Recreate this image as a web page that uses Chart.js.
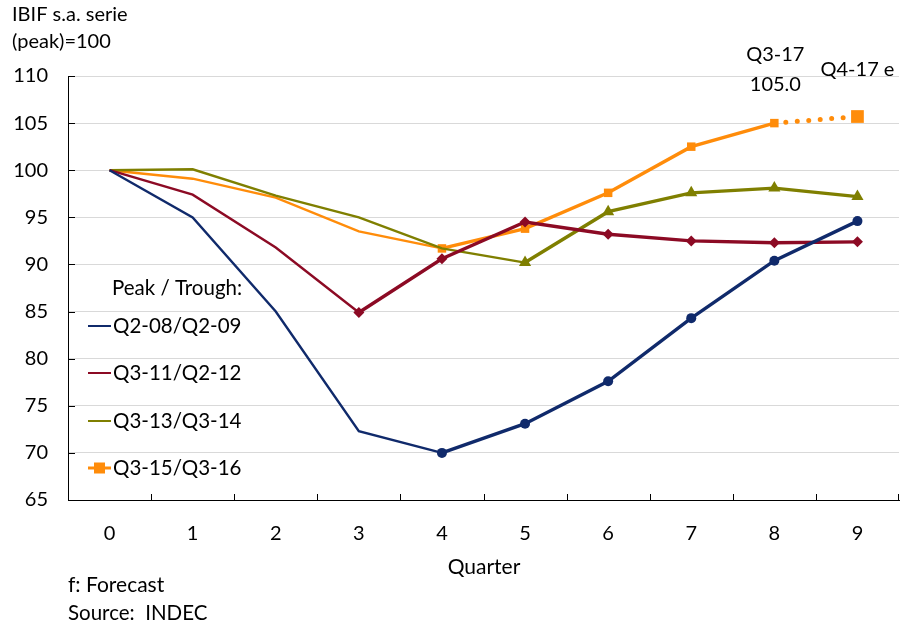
<!DOCTYPE html>
<html>
<head>
<meta charset="utf-8">
<script src="https://cdn.jsdelivr.net/npm/chart.js@4.4.1/dist/chart.umd.min.js"></script>
<style>
  html, body { margin: 0; padding: 0; background: #fff; }
  #wrap { width: 903px; height: 627px; position: relative; }
</style>
</head>
<body>
<div id="wrap"><canvas id="c" width="903" height="627"></canvas></div>
<script>
// Quarters after each cyclical peak
const quarters = ['0', '1', '2', '3', '4', '5', '6', '7', '8', '9'];
const yTicks = [65, 70, 75, 80, 85, 90, 95, 100, 105, 110];

// IBIF s.a., peak quarter = 100
const cycle0809 = [100, 95.0, 85.0, 72.3, 70.0, 73.1, 77.6, 84.3, 90.4, 94.6];
const cycle1112 = [100, 97.4, 91.8, 84.9, 90.6, 94.5, 93.2, 92.5, 92.3, 92.4];
const cycle1314 = [100, 100.1, 97.3, 95.0, 91.7, 90.2, 95.6, 97.6, 98.1, 97.2];
const cycle1516 = [100, 99.1, 97.1, 93.5, 91.7, 93.8, 97.6, 102.5, 105.0, 105.7];

const seriesNames = ['Q2-08/Q2-09', 'Q3-11/Q2-12', 'Q3-13/Q3-14', 'Q3-15/Q3-16'];
const troughIndex = [4, 3, 5, 4];

const FONT = 'Lato, "Open Sans", sans-serif';
const colors = ['#102a6b', '#8c0a24', '#7f7f00', '#ff8c0a'];
const shapes = ['circle', 'rectRot', 'triangle', 'rect'];
const sizes = [5, 5.5, 7, 6];

// Large end markers should not shrink the plot area
Chart.LineController.prototype.getMaxOverflow = function () { return 0; };

function radii(i, n) {
  return quarters.map((_, k) => {
    if (k < troughIndex[i]) return 0;
    if (i === 3 && k === n - 1) return 9;
    return sizes[i];
  });
}

const datasets = [cycle0809, cycle1112, cycle1314, cycle1516].map((vals, i) => ({
  label: seriesNames[i],
  data: vals,
  borderColor: colors[i],
  backgroundColor: colors[i],
  pointStyle: shapes[i],
  pointRadius: radii(i, vals.length),
  pointHoverRadius: radii(i, vals.length),
  pointBorderWidth: 0,
  borderWidth: 2.4,
  tension: 0,
  clip: false,
  segment: {
    borderWidth: ctx => {
      if (i === 3 && ctx.p0DataIndex === 8) return 5;
      return ctx.p0DataIndex >= troughIndex[i] ? 3.4 : 2.4;
    },
    borderDash: ctx => (i === 3 && ctx.p0DataIndex === 8) ? [0, 11.5] : undefined,
    borderCapStyle: ctx => (i === 3 && ctx.p0DataIndex === 8) ? 'round' : 'butt'
  }
}));

// Inside tick marks, axis titles, legend block and point labels
const decor = {
  id: 'decor',
  afterDraw(chart) {
    const { ctx, chartArea: a, scales: { x, y } } = chart;
    ctx.save();
    // inside ticks
    ctx.strokeStyle = '#000';
    ctx.lineWidth = 1;
    yTicks.forEach(v => {
      const py = Math.round(y.getPixelForValue(v)) + 0.5;
      ctx.beginPath(); ctx.moveTo(a.left, py); ctx.lineTo(a.left + 7, py); ctx.stroke();
    });
    for (let k = 1; k <= quarters.length; k++) {
      const px = k < quarters.length
        ? Math.round((x.getPixelForValue(k - 1) + x.getPixelForValue(k)) / 2) + 0.5
        : Math.round(a.right) - 0.5;
      ctx.beginPath(); ctx.moveTo(px, a.bottom); ctx.lineTo(px, a.bottom - 6); ctx.stroke();
    }

    ctx.fillStyle = '#000';
    ctx.font = '20px ' + FONT;
    ctx.textBaseline = 'middle';
    ctx.textAlign = 'left';
    ctx.fillText('IBIF s.a. serie', 12, 15);
    ctx.fillText('(peak)=100', 12, 42);

    ctx.font = '21px ' + FONT;
    ctx.textAlign = 'center';
    ctx.fillText('Quarter', 484, 567);
    ctx.textAlign = 'left';
    ctx.font = '21px ' + FONT;
    ctx.fillText('f: Forecast', 68, 585);
    ctx.font = '20.5px ' + FONT;
    ctx.fillText('Source:  INDEC', 68, 613);

    // legend
    ctx.font = '20.5px ' + FONT;
    ctx.fillText('Peak / Trough:', 112, 288);
    const rows = [326, 373, 421, 468];
    datasets.forEach((d, i) => {
      const ly = rows[i];
      ctx.strokeStyle = d.borderColor;
      ctx.lineWidth = i === 3 ? 3 : 2;
      ctx.beginPath(); ctx.moveTo(88, ly); ctx.lineTo(111, ly); ctx.stroke();
      if (i === 3) {
        ctx.fillStyle = d.borderColor;
        ctx.fillRect(94, ly - 5.5, 11, 11);
      }
      ctx.fillStyle = '#000';
      ctx.fillText(d.label, 113, ly);
    });

    // labels on the last orange points
    const n = cycle1516.length;
    const p8x = x.getPixelForValue(n - 2);
    const p9x = x.getPixelForValue(n - 1);
    ctx.textAlign = 'center';
    ctx.font = '20px ' + FONT;
    ctx.fillText('Q3-17', p8x + 1, 55);
    ctx.fillText(cycle1516[n - 2].toFixed(1), p8x + 1, 85);
    ctx.fillText('Q4-17 e', p9x, 70);
    ctx.restore();
  }
};

new Chart(document.getElementById('c'), {
  type: 'line',
  data: { labels: quarters, datasets },
  options: {
    responsive: false,
    animation: false,
    layout: { padding: { top: 76, right: 4, left: 0, bottom: 0 } },
    plugins: { legend: { display: false }, tooltip: { enabled: false } },
    scales: {
      x: {
        offset: true,
        grid: { display: false, drawTicks: false },
        border: { display: true, color: '#000', width: 1 },
        ticks: { color: '#000', font: { family: FONT, size: 20 }, padding: 22, maxRotation: 0 },
        afterFit(s) { s.height = 127; s.paddingLeft = 0; s.paddingRight = 0; }
      },
      y: {
        min: 65, max: 110,
        afterBuildTicks(s) { s.ticks = yTicks.map(v => ({ value: v })); },
        grid: { color: '#d9d9d9', lineWidth: 1, drawTicks: false },
        border: { display: true, color: '#000', width: 1 },
        ticks: { color: '#000', font: { family: FONT, size: 20 }, padding: 20 },
        afterFit(s) { s.width = 68; s.paddingTop = 0; s.paddingBottom = 0; }
      }
    }
  },
  plugins: [decor]
});
</script>
</body>
</html>
